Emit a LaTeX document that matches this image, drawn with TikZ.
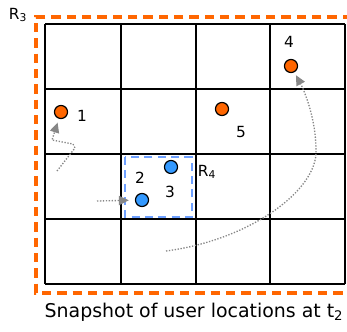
\documentclass[tikz,border=0pt]{standalone}
\usepackage{fontspec}
\setmainfont{DejaVu Sans}
\usetikzlibrary{arrows.meta,positioning}
\definecolor{snaporange}{RGB}{255,102,0}
\definecolor{snapblue}{RGB}{51,153,255}
\definecolor{regionblue}{RGB}{110,160,255}
\definecolor{trailgrey}{RGB}{135,135,135}

\begin{document}
\begin{tikzpicture}[x=0.75pt, y=-0.75pt,
    cell/.style={draw=black, line width=1.3pt},
    region/.style={draw=snaporange, line width=2.3pt, dash pattern=on 7pt off 4.5pt},
    subregion/.style={draw=regionblue, line width=1.6pt, dash pattern=on 6pt off 4pt},
    user/.style={circle, draw=black, line width=0.9pt, minimum size=9.8pt, inner sep=0pt},
    olduser/.style={user, fill=snaporange},
    newuser/.style={user, fill=snapblue},
    uid/.style={font=\fontsize{11.5}{13}\selectfont, inner sep=0pt},
    rlabel/.style={font=\fontsize{11.5}{13}\selectfont, inner sep=0pt},
    trail/.style={-{Triangle[length=7.5pt,width=7pt]}, trailgrey, line width=1pt,
        dash pattern=on 1pt off 1.2pt}
]
    \useasboundingbox (0,0) rectangle (347,332);

    % Region R3 (open on the right, runs off the page)
    \draw[region] (352,17) -- (36,17) -- (36,293) -- (352,293);
    \node[rlabel] (r3) at (18,15) {R\textsubscript{3}};

    % 4x4 grid of cells
    \foreach \gx in {45,121,196,270,345}
        \draw[cell] (\gx,24) -- (\gx,284);
    \foreach \gy in {24,89,154,219,284}
        \draw[cell] (45,\gy) -- (345,\gy);

    % Region R4
    \draw[subregion] (125,157) rectangle (192,217);
    \node[rlabel] (r4) at (207,172) {R\textsubscript{4}};

    % Users
    \node[olduser] (u1) at (61,112) {};
    \node[newuser] (u2) at (142,200) {};
    \node[newuser] (u3) at (171,167) {};
    \node[olduser] (u4) at (291,66) {};
    \node[olduser] (u5) at (222,109) {};

    \node[uid] (l1) at (82,116) {1};
    \node[uid] (l2) at (140,178) {2};
    \node[uid] (l3) at (170,192) {3};
    \node[uid] (l4) at (289,42) {4};
    \node[uid] (l5) at (241,132) {5};

    % Movement trails
    \coordinate (s1) at (57,171);
    \coordinate (s2) at (97,201);
    \coordinate (s4) at (166,251);
    \draw[trail, shorten >=3pt] (s1) -- (75,148) -- (73,144) -- (52,140) -- (u1);
    \draw[trail, shorten >=4.5pt] (s2) -- (u2);
    \draw[trail, shorten >=2.5pt] (s4) .. controls (250,240) and (318,190) .. (316,150)
        .. controls (316,120) and (305,92) .. (u4);

    % Caption
    \node[font=\fontsize{14.2}{17}\selectfont, inner sep=0pt] (cap) at (194,312)
        {Snapshot of user locations at t\textsubscript{2}};
\end{tikzpicture}
\end{document}
